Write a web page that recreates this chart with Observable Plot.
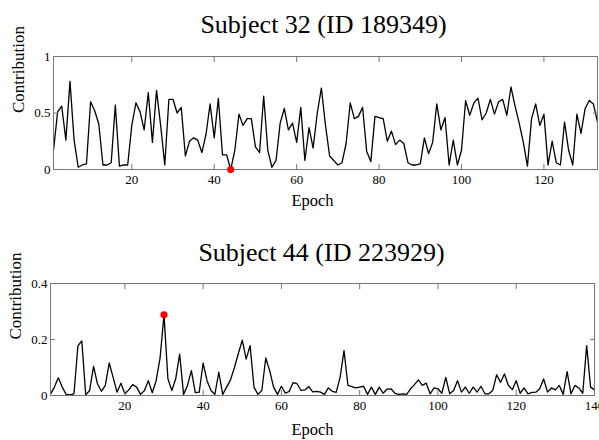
<!DOCTYPE html>
<html><head><meta charset="utf-8">
<script src="https://cdn.jsdelivr.net/npm/d3@7"></script>
<script src="https://cdn.jsdelivr.net/npm/@observablehq/plot@0.6"></script>
<style>
html,body{margin:0;padding:0;background:#fff;overflow:hidden;width:599px;height:440px}
#chart svg{display:block}
</style></head><body><div id="chart"></div>
<script>
// ---- data ----
const titles = ["Subject 32 (ID 189349)", "Subject 44 (ID 223929)"];
const xLabel = "Epoch";
const yLabel = "Contribution";

const subject32 = [
  0.17,0.51,0.56,0.26,0.78,0.26,0.02,0.04,0.05,0.60,
  0.52,0.40,0.04,0.04,0.06,0.57,0.03,0.04,0.04,0.39,
  0.59,0.51,0.35,0.68,0.24,0.70,0.39,0.04,0.62,0.62,
  0.50,0.55,0.12,0.25,0.28,0.26,0.15,0.31,0.58,0.28,
  0.63,0.13,0.13,0.00,0.17,0.49,0.39,0.45,0.45,0.20,
  0.15,0.65,0.17,0.02,0.08,0.41,0.54,0.35,0.41,0.24,
  0.55,0.08,0.37,0.19,0.50,0.72,0.39,0.12,0.08,0.04,
  0.06,0.23,0.59,0.45,0.47,0.55,0.16,0.07,0.47,0.46,
  0.45,0.25,0.34,0.22,0.26,0.23,0.06,0.04,0.04,0.05,
  0.28,0.14,0.24,0.58,0.35,0.46,0.04,0.26,0.04,0.17,
  0.61,0.48,0.59,0.63,0.44,0.50,0.62,0.49,0.60,0.62,
  0.48,0.73,0.56,0.41,0.24,0.03,0.45,0.58,0.39,0.49,
  0.04,0.25,0.06,0.04,0.42,0.17,0.04,0.49,0.32,0.54,
  0.61,0.58,0.42
];

const subject44 = [
  0.005,0.03,0.063,0.03,0.004,0.002,0.006,0.177,0.195,0.002,
  0.018,0.104,0.042,0.015,0.036,0.116,0.065,0.012,0.044,0.006,
  0.02,0.039,0.03,0.004,0.018,0.053,0.01,0.053,0.134,0.288,
  0.06,0.018,0.06,0.148,0.004,0.036,0.089,0.01,0.012,0.116,
  0.053,0.018,0.004,0.083,0.004,0.03,0.056,0.10,0.15,0.198,
  0.13,0.178,0.03,0.004,0.018,0.134,0.089,0.03,0.004,0.033,
  0.008,0.015,0.046,0.042,0.018,0.02,0.032,0.013,0.015,0.012,
  0.004,0.027,0.015,0.011,0.065,0.16,0.036,0.032,0.027,0.03,
  0.033,0.004,0.03,0.004,0.03,0.008,0.023,0.024,0.008,0.004,
  0.006,0.004,0.024,0.039,0.056,0.036,0.044,0.006,0.027,0.024,
  0.008,0.065,0.006,0.018,0.053,0.012,0.03,0.008,0.03,0.012,
  0.033,0.006,0.006,0.018,0.074,0.047,0.077,0.036,0.021,0.053,
  0.008,0.027,0.006,0.011,0.012,0.024,0.059,0.012,0.027,0.02,
  0.036,0.004,0.085,0.006,0.036,0.027,0.008,0.178,0.03,0.02
];

const highlight32 = [{epoch: 44, value: 0}];
const highlight44 = [{epoch: 30, value: 0.288}];

const xDomain32 = [1, 133];
const xDomain44 = [1, 140];
const yDomain32 = [0, 1];
const yDomain44 = [0, 0.4];
const xTicks32 = [20, 40, 60, 80, 100, 120];
const xTicks44 = [20, 40, 60, 80, 100, 120, 140];
const yTicks32 = [0, 0.5, 1];
const yTicks44 = [0, 0.2, 0.4];

// ---- drawing ----
const FONT = "'Liberation Serif', 'Times New Roman', 'DejaVu Serif', serif";
const AXIS = "#777";

function panel(cfg) {
  const rows = cfg.values.map((v, i) => ({epoch: i + 1, value: v}));
  return Plot.plot({
    width: 599,
    height: 220,
    marginTop: cfg.mt,
    marginBottom: cfg.mb,
    marginLeft: cfg.ml,
    marginRight: cfg.mr,
    style: {fontFamily: FONT, fontSize: "13px", color: "#000", background: "#fff", overflow: "visible"},
    x: {domain: cfg.xDomain},
    y: {domain: cfg.yDomain},
    marks: [
      Plot.line(rows, {x: "epoch", y: "value", stroke: "#000", strokeWidth: 1.3}),
      Plot.frame({stroke: AXIS, strokeWidth: 1}),
      Plot.axisX(cfg.xTicks, {anchor: "bottom", tickSize: -5, tickPadding: 10, label: null, stroke: AXIS, fill: "#000", tickFormat: d => String(d)}),
      Plot.axisX(cfg.xTicks, {anchor: "top", tickSize: -5, label: null, stroke: AXIS, tickFormat: () => ""}),
      Plot.axisY(cfg.yTicks, {anchor: "left", tickSize: -5, tickPadding: 8, label: null, stroke: AXIS, fill: "#000", tickFormat: d => String(d)}),
      Plot.axisY(cfg.yTicks, {anchor: "right", tickSize: -5, label: null, stroke: AXIS, tickFormat: () => ""}),
      Plot.dot(cfg.highlight, {x: "epoch", y: "value", r: 3.6, fill: "#ff0000", stroke: null}),
      Plot.text([cfg.title], {text: d => d, frameAnchor: "top", dx: cfg.titleDx, dy: cfg.titleDy, fontSize: 26, lineAnchor: "middle", fill: "#000"}),
      Plot.text([xLabel], {text: d => d, frameAnchor: "bottom", dx: cfg.xlDx, dy: cfg.xlDy, fontSize: 16.5, lineAnchor: "middle", fill: "#000"}),
      Plot.text([yLabel], {text: d => d, frameAnchor: "left", rotate: -90, dx: cfg.ylDx, fontSize: 17, lineAnchor: "middle", fill: "#000"})
    ]
  });
}

const chart = document.getElementById("chart");
chart.appendChild(panel({
  values: subject32, highlight: highlight32, title: titles[0],
  xDomain: xDomain32, yDomain: yDomain32, xTicks: xTicks32, yTicks: yTicks32,
  mt: 56, mb: 51, ml: 53, mr: 2,
  titleDx: -2, titleDy: -32, xlDx: -13, xlDy: 31, ylDx: -35
}));
chart.appendChild(panel({
  values: subject44, highlight: highlight44, title: titles[1],
  xDomain: xDomain44, yDomain: yDomain44, xTicks: xTicks44, yTicks: yTicks44,
  mt: 63, mb: 45, ml: 50, mr: 5,
  titleDx: -1, titleDy: -31, xlDx: -10, xlDy: 34, ylDx: -34.5
}));
</script>
</body></html>
